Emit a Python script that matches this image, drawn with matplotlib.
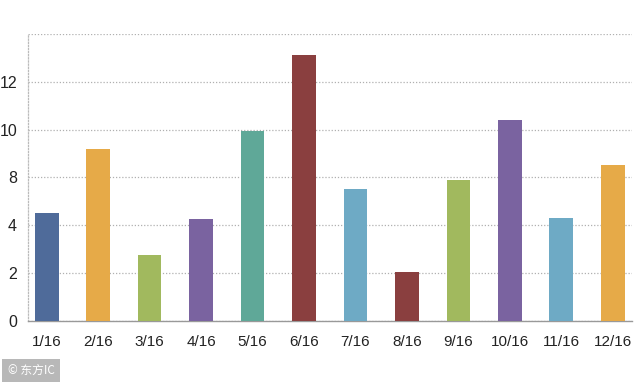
import matplotlib.pyplot as plt

days = ['1/16', '2/16', '3/16', '4/16', '5/16', '6/16',
        '7/16', '8/16', '9/16', '10/16', '11/16', '12/16']
values = [4.5, 7.18, 2.75, 4.26, 7.94, 11.14, 5.5, 2.03, 5.9, 8.4, 4.28, 6.53]
colors = ['#4f6b9a', '#e6aa48', '#a1b95e', '#7a63a0', '#5fa898', '#8a3f3f',
          '#6eaac5', '#8a3f3f', '#a1b95e', '#7a63a0', '#6eaac5', '#e6aa48']
tick_pos = [0, 2, 4, 6, 8, 10, 12]
tick_labels = ['0', '2', '4', '8', '10', '12', '']

font = ['Liberation Sans Narrow', 'Liberation Sans', 'DejaVu Sans']

fig = plt.figure(figsize=(6.4, 3.84), dpi=100)
ax = fig.add_axes([0.044, 0.165, 0.944, 0.746])

x = range(len(days))
ax.bar(x, values, width=0.46, color=colors, zorder=3)

ax.set_xlim(-0.36, 11.38)
ax.set_ylim(0, 12)
ax.set_yticks(tick_pos)
ax.set_yticklabels(tick_labels, family=font, fontsize=11.5, color='#222222')
ax.set_xticks(list(x))
ax.set_xticklabels(days, family=font, fontsize=11, color='#222222')
ax.tick_params(length=0)
ax.tick_params(axis='x', pad=10)
ax.tick_params(axis='y', pad=8)

ax.grid(axis='y', color='#b0b0b0', linestyle=(0, (1, 1.5)), linewidth=0.9, zorder=0)
ax.set_axisbelow(True)
for side in ['top', 'right']:
    ax.spines[side].set_visible(False)
ax.spines['left'].set_color('#bbbbbb')
ax.spines['left'].set_linestyle((0, (1, 1.5)))
ax.spines['left'].set_linewidth(0.9)
ax.spines['bottom'].set_color('#999999')
ax.spines['bottom'].set_linewidth(1.0)

# watermark
fig.text(0.012, 0.018, '© 东方IC', family=['Noto Sans CJK SC', 'DejaVu Sans'],
         fontsize=8.5, color='white', va='bottom', ha='left',
         bbox=dict(boxstyle='square,pad=0.45', facecolor='#b8b8b8', edgecolor='none'))

fig.savefig('out.png', dpi=100)
